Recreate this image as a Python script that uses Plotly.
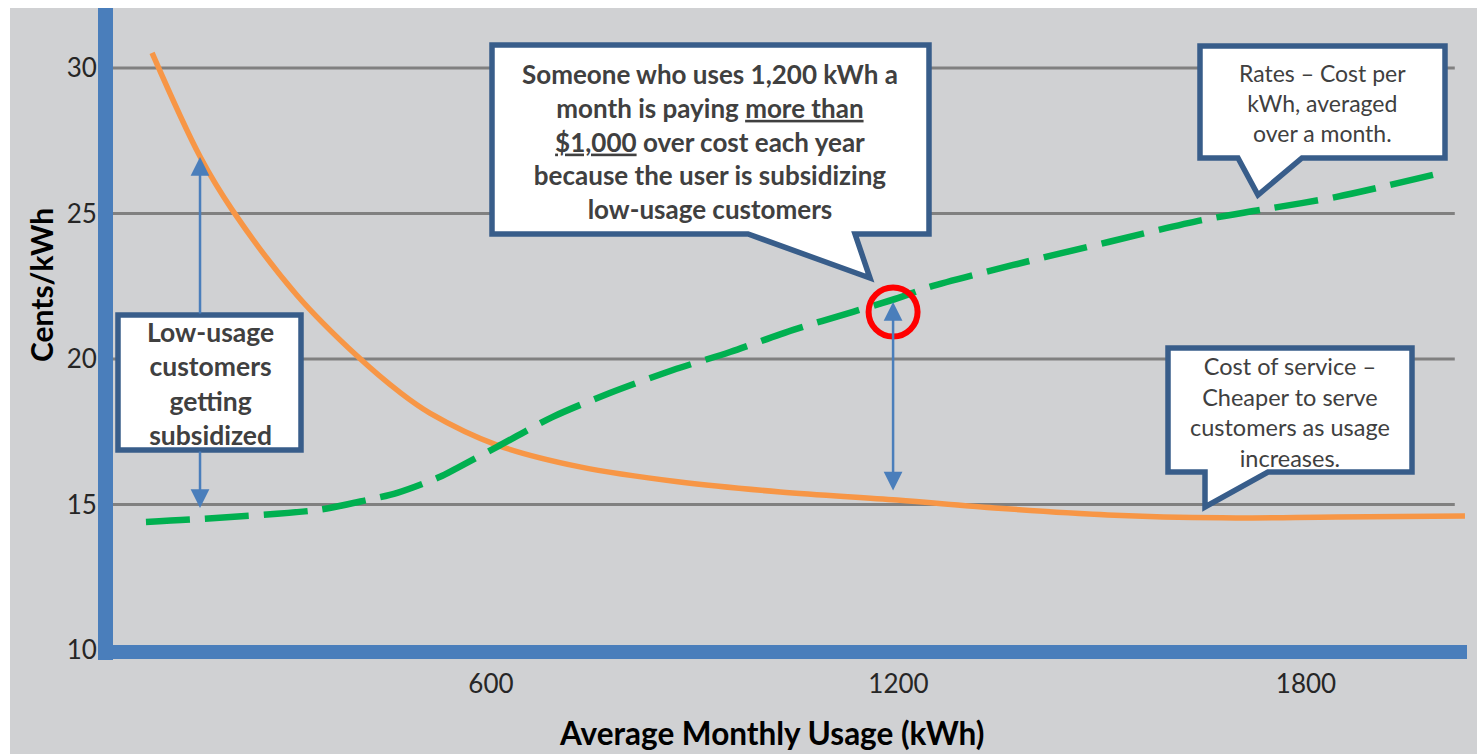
import plotly.graph_objects as go

# ---------------- data ----------------
usage_cost = [101, 172, 220, 314, 403, 466, 510, 609, 731, 878, 1026, 1198, 1341, 1508, 1676, 1844, 2034]
cost_of_service = [30.52, 26.94, 25.09, 22.20, 20.10, 18.85, 18.14, 17.04, 16.29, 15.77, 15.43, 15.15,
                   14.88, 14.64, 14.54, 14.57, 14.60]

usage_rate = [92, 171, 344, 417, 462, 525, 550, 609, 691, 775, 868, 952, 1045, 1133, 1200, 1245, 1369, 1509,
              1649, 1733, 1845, 1998]
rates = [14.40, 14.50, 14.81, 15.15, 15.40, 15.95, 16.25, 16.98, 18.01, 18.83, 19.62, 20.24, 21.00, 21.62,
         22.10, 22.47, 23.23, 24.02, 24.78, 25.12, 25.57, 26.39]

x_ticks = [600, 1200, 1800]
y_ticks = [10, 15, 20, 25, 30]

# ---------------- layout geometry ----------------
W, H = 1477, 754
ML, MR, MT, MB = 105, 10, 8, 102
PW, PH = W - ML - MR, H - MT - MB
X_RANGE = [31.7, 2037.0]
Y_RANGE = [9.93, 32.06]

BG = "#d0d1d3"
AXIS_BLUE = "#4a7ebb"
BOX_BORDER = "#385d8a"
TXT = "#404040"
FONT = "Lato"


def fx(px):
    return (px - ML) / PW


def fy(py):
    return (H - MB - py) / PH


def py2y(py):
    return Y_RANGE[0] + (H - MB - py) / PH * (Y_RANGE[1] - Y_RANGE[0])


fig = go.Figure()

fig.add_trace(go.Scatter(
    x=usage_cost, y=cost_of_service, mode="lines", name="Cost of service",
    line=dict(color="#f79646", width=5.5, shape="spline", smoothing=1.0),
    hoverinfo="skip"))

fig.add_trace(go.Scatter(
    x=usage_rate, y=rates, mode="lines", name="Rates",
    line=dict(color="#00b050", width=6.5, dash="44px,15px", shape="spline", smoothing=0.8),
    hoverinfo="skip"))

shapes = []
# white strips round the gray panel
shapes.append(dict(type="rect", xref="paper", yref="paper", x0=fx(0), x1=fx(10), y0=fy(H), y1=fy(0),
                   fillcolor="white", line=dict(width=0), layer="above"))
shapes.append(dict(type="rect", xref="paper", yref="paper", x0=fx(0), x1=fx(W), y0=fy(8), y1=fy(0),
                   fillcolor="white", line=dict(width=0), layer="above"))
# gridlines
for v in y_ticks[1:]:
    shapes.append(dict(type="line", xref="x", yref="y", x0=X_RANGE[0], x1=2019, y0=v, y1=v,
                       line=dict(color="#808080", width=3), layer="below"))
# axes lines
shapes.append(dict(type="line", xref="paper", yref="paper", x0=fx(105.5), x1=fx(105.5), y0=fy(660), y1=fy(8),
                   line=dict(color=AXIS_BLUE, width=15), layer="above"))
shapes.append(dict(type="line", xref="paper", yref="paper", x0=fx(98), x1=fx(1467), y0=fy(652), y1=fy(652),
                   line=dict(color=AXIS_BLUE, width=14), layer="above"))


def callout(x0, y0, x1, y1, pointer=None):
    # pointer: (left_base_x, tip_x, tip_y, right_base_x) on bottom edge
    pts = [(x0, y0), (x1, y0), (x1, y1)]
    if pointer:
        lb, tx, ty, rb = pointer
        pts += [(rb, y1), (tx, ty), (lb, y1)]
    pts += [(x0, y1)]
    path = "M " + " L ".join(f"{fx(a):.5f},{fy(b):.5f}" for a, b in pts) + " Z"
    return dict(type="path", xref="paper", yref="paper", path=path, fillcolor="white",
                line=dict(color=BOX_BORDER, width=5.5), layer="above")


shapes.append(callout(118, 315, 301, 450))
shapes.append(callout(492, 45, 929, 234, (748, 870, 278, 855)))
shapes.append(callout(1200, 46, 1445, 158, (1238, 1258, 195, 1302)))
shapes.append(callout(1168, 348, 1412, 472, (1205, 1205, 507, 1268)))

# red circle highlighting the 1,200 kWh point
shapes.append(dict(type="circle", xref="x", yref="y", xsizemode="pixel", ysizemode="pixel",
                   xanchor=1192, yanchor=py2y(312), x0=-24.5, x1=24.5, y0=-24.5, y1=24.5,
                   line=dict(color="#ff0000", width=6), layer="above"))

annotations = []
arrow_style = dict(showarrow=True, text="", arrowcolor=AXIS_BLUE, arrowwidth=2.5, arrowhead=2,
                   arrowsize=1.5, standoff=0, axref="x", ayref="y", xref="x", yref="y")
# arrow at low usage (split around the box)
annotations.append(dict(x=171.6, y=py2y(157), ax=171.6, ay=py2y(315), **arrow_style))
annotations.append(dict(x=171.6, y=py2y(508), ax=171.6, ay=py2y(450), **arrow_style))
# double arrow at 1,200 kWh
annotations.append(dict(x=1192, y=py2y(302), ax=1192, ay=py2y(492), arrowside="end+start",
                        startarrowhead=2, startarrowsize=1.5, startstandoff=0, **arrow_style))


def label(text, px, py, size, bold=False, color=TXT, angle=0):
    return dict(xref="paper", yref="paper", x=fx(px), y=fy(py), text=text, showarrow=False,
                xanchor="center", yanchor="middle", align="center", textangle=angle,
                font=dict(family=FONT, size=size, color=color, weight=700 if bold else 400))


annotations.append(label("Low-usage<br>customers<br>getting<br>subsidized", 210, 383.5, 26.5, bold=True))
annotations.append(label("Someone who uses 1,200 kWh a<br>month is paying <u>more than</u><br>"
                         "<u>$1,000</u> over cost each year<br>because the user is subsidizing<br>"
                         "low-usage customers", 710, 141.5, 26, bold=True))
annotations.append(label("Rates \u2013 Cost per<br>kWh, averaged<br>over a month.", 1322, 103.5, 23))
annotations.append(label("Cost of service \u2013<br>Cheaper to serve<br>customers as usage<br>increases.",
                         1290, 411.5, 23.5))
annotations.append(label("Cents/kWh", 41, 285, 30, bold=True, color="#000000", angle=-90))
annotations.append(label("Average Monthly Usage (kWh)", 771, 733, 31.5, bold=True, color="#000000"))

fig.update_layout(
    width=W, height=H,
    margin=dict(l=ML, r=MR, t=MT, b=MB, pad=0),
    paper_bgcolor=BG, plot_bgcolor=BG,
    showlegend=False, hovermode=False,
    shapes=shapes, annotations=annotations,
    xaxis=dict(range=X_RANGE, tickvals=x_ticks, ticktext=[str(v) for v in x_ticks],
               showgrid=False, zeroline=False, showline=False,
               ticks="outside", ticklen=9, tickcolor="rgba(0,0,0,0)",
               tickfont=dict(family=FONT, size=26, color="#262626"), fixedrange=True),
    yaxis=dict(range=Y_RANGE, tickvals=y_ticks, ticktext=[str(v) for v in y_ticks],
               showgrid=False, zeroline=False, showline=False,
               ticks="outside", ticklen=2, tickcolor="rgba(0,0,0,0)",
               tickfont=dict(family=FONT, size=26, color="#262626"), fixedrange=True),
)

fig.write_html("out.html", config={"displayModeBar": False},
               post_script="document.body.style.margin='0';document.body.style.overflow='hidden';")
